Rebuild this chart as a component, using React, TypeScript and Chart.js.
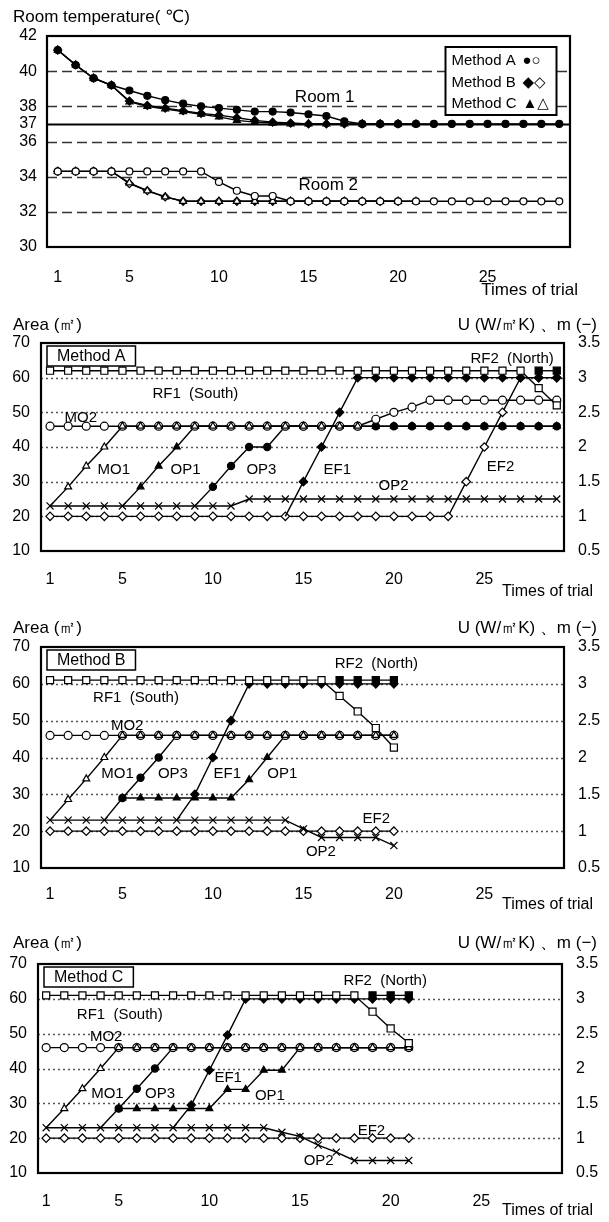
import React, { useEffect, useRef } from "react";
import { Chart, registerables } from "chart.js";

Chart.register(...registerables);

const FONT = '"Liberation Sans", Arial, "DejaVu Sans", sans-serif';

// ---------------- shared axis data ----------------
const TRIALS = [1, 2, 3, 4, 5, 6, 7, 8, 9, 10, 11, 12, 13, 14, 15, 16, 17, 18, 19, 20, 21, 22, 23, 24, 25, 26, 27, 28, 29];
const TRIAL_TICKS = [1, 5, 10, 15, 20, 25];
const TEMP_TICKS = [30, 32, 34, 36, 37, 38, 40, 42];
const TEMP_GRID = [32, 34, 36, 38, 40];
const TEMP_REF = [37];
const AREA_TICKS = [10, 20, 30, 40, 50, 60, 70];
const AREA_GRID = [20, 30, 40, 50, 60];
const U_TICKS = [0.5, 1, 1.5, 2, 2.5, 3, 3.5];

// ---------------- panel 1 : room temperature ----------------
const ROOM1_A = [41.2, 40.35, 39.6, 39.2, 38.9, 38.6, 38.35, 38.15, 38.0, 37.9, 37.8, 37.7, 37.7, 37.65, 37.55, 37.45, 37.15, 37.0, 37.0, 37.0, 37.0, 37.0, 37.0, 37.0, 37.0, 37.0, 37.0, 37.0, 37.0];
const ROOM1_B = [41.2, 40.35, 39.6, 39.2, 38.3, 38.05, 37.9, 37.75, 37.6, 37.5, 37.35, 37.2, 37.1, 37.05, 37.0, 37.0, 37.0, 37.0, 37.0, 37.0];
const ROOM1_C = [41.2, 40.35, 39.6, 39.2, 38.25, 38.0, 37.85, 37.7, 37.55, 37.4, 37.2, 37.1, 37.05, 37.0, 37.0, 37.0, 37.0, 37.0, 37.0, 37.0, 37.0];
const ROOM2_A = [34.3, 34.3, 34.3, 34.3, 34.3, 34.3, 34.3, 34.3, 34.3, 33.7, 33.2, 32.9, 32.9, 32.6, 32.6, 32.6, 32.6, 32.6, 32.6, 32.6, 32.6, 32.6, 32.6, 32.6, 32.6, 32.6, 32.6, 32.6, 32.6];
const ROOM2_B = [34.3, 34.3, 34.3, 34.3, 33.6, 33.2, 32.85, 32.6, 32.6, 32.6, 32.6, 32.6, 32.6, 32.6, 32.6, 32.6, 32.6, 32.6, 32.6, 32.6];
const ROOM2_C = [34.3, 34.3, 34.3, 34.3, 33.65, 33.2, 32.85, 32.6, 32.6, 32.6, 32.6, 32.6, 32.6, 32.6, 32.6, 32.6, 32.6, 32.6, 32.6, 32.6, 32.6];
const LEGEND_ROWS = ["Method A", "Method B", "Method C"];
const LEGEND_GLYPHS = ["●○", "◆◇", "▲△"];
const ROOM_LABELS = [
  { text: "Room 1", x: 15.9, y: 38.54 },
  { text: "Room 2", x: 16.1, y: 33.5 },
];

// ---------------- panel 2 : Method A ----------------
const A_RF1 = [62, 62, 62, 62, 62, 62, 62, 62, 62, 62, 62, 62, 62, 62, 62, 62, 62, 62, 62, 62, 62, 62, 62, 62, 62, 62, 62, 57, 52];
const A_RF2 = [null, null, null, null, null, null, null, null, null, null, null, null, null, null, null, null, null, null, null, null, null, null, null, null, null, null, null, 62, 62];
const A_EF1 = [null, null, null, null, null, null, null, null, null, null, null, null, null, 20, 30, 40, 50, 60, 60, 60, 60, 60, 60, 60, 60, 60, 60, 60, 60];
const A_EF2 = [20, 20, 20, 20, 20, 20, 20, 20, 20, 20, 20, 20, 20, 20, 20, 20, 20, 20, 20, 20, 20, 20, 20, 30, 40, 50, 60, 60, 60];
const A_MO2 = [46, 46, 46, 46, 46, 46, 46, 46, 46, 46, 46, 46, 46, 46, 46, 46, 46, 46, 48, 50, 51.5, 53.5, 53.5, 53.5, 53.5, 53.5, 53.5, 53.5, 53.5];
const A_MO1 = [23, 28.5, 34.5, 40, 46, 46, 46, 46, 46, 46, 46, 46, 46, 46, 46, 46, 46, 46];
const A_OP1 = [null, null, null, null, 23, 28.5, 34.5, 40, 46, 46, 46, 46, 46, 46, 46, 46, 46, 46, 46, 46, 46, 46, 46, 46, 46, 46, 46, 46, 46];
const A_OP3 = [null, null, null, null, null, null, null, null, 23, 28.5, 34.5, 40, 40, 46, 46, 46, 46, 46, 46, 46, 46, 46, 46, 46, 46, 46, 46, 46, 46];
const A_OP2 = [23, 23, 23, 23, 23, 23, 23, 23, 23, 23, 23, 25, 25, 25, 25, 25, 25, 25, 25, 25, 25, 25, 25, 25, 25, 25, 25, 25, 25];
const A_LABELS = [
  { text: "MO2", x: 2.7, y: 48.5 },
  { text: "RF1  (South)", x: 9.03, y: 55.4 },
  { text: "RF2  (North)", x: 26.53, y: 65.5 },
  { text: "MO1", x: 4.52, y: 33.3 },
  { text: "OP1", x: 8.49, y: 33.3 },
  { text: "OP3", x: 12.68, y: 33.3 },
  { text: "EF1", x: 16.87, y: 33.3 },
  { text: "OP2", x: 19.98, y: 28.9 },
  { text: "EF2", x: 25.89, y: 34.2 },
];

// ---------------- panel 3 : Method B ----------------
const B_RF1 = [61, 61, 61, 61, 61, 61, 61, 61, 61, 61, 61, 61, 61, 61, 61, 61, 56.7, 52.5, 48, 42.7];
const B_RF2 = [null, null, null, null, null, null, null, null, null, null, null, null, null, null, null, null, 61, 61, 61, 61];
const B_EF1 = [null, null, null, null, null, null, null, 23, 30, 40, 50, 60, 60, 60, 60, 60, 60, 60, 60, 60];
const B_EF2 = [20, 20, 20, 20, 20, 20, 20, 20, 20, 20, 20, 20, 20, 20, 20, 20, 20, 20, 20, 20];
const B_MO2 = [46, 46, 46, 46, 46, 46, 46, 46, 46, 46, 46, 46, 46, 46, 46, 46, 46, 46, 46, 46];
const B_MO1 = [23, 28.6, 34.2, 40, 46, 46, 46, 46, 46, 46, 46, 46, 46, 46, 46, 46, 46, 46, 46, 46];
const B_OP3 = [null, null, null, 23, 29, 34.5, 40, 46, 46, 46, 46, 46, 46, 46, 46, 46, 46, 46, 46, 46];
const B_OP1 = [null, null, null, null, 29, 29, 29, 29, 29, 29, 29, 34, 40, 46, 46, 46, 46, 46, 46, 46];
const B_OP2 = [23, 23, 23, 23, 23, 23, 23, 23, 23, 23, 23, 23, 23, 23, 20.6, 18.3, 18.3, 18.3, 18.3, 16.1];
const B_LABELS = [
  { text: "RF2  (North)", x: 19.03, y: 65.3 },
  { text: "RF1  (South)", x: 5.75, y: 56.1 },
  { text: "MO2", x: 5.26, y: 48.6 },
  { text: "MO1", x: 4.73, y: 35.5 },
  { text: "OP3", x: 7.79, y: 35.5 },
  { text: "EF1", x: 10.79, y: 35.5 },
  { text: "OP1", x: 13.83, y: 35.5 },
  { text: "EF2", x: 19.03, y: 23.3 },
  { text: "OP2", x: 15.97, y: 14.3 },
];

// ---------------- panel 4 : Method C ----------------
const C_RF1 = [61, 61, 61, 61, 61, 61, 61, 61, 61, 61, 61, 61, 61, 61, 61, 61, 61, 61, 56.3, 51.5, 47.3];
const C_RF2 = [null, null, null, null, null, null, null, null, null, null, null, null, null, null, null, null, null, null, 61, 61, 61];
const C_EF1 = [null, null, null, null, null, null, null, 23, 29.5, 39.5, 49.6, 60, 60, 60, 60, 60, 60, 60, 60, 60, 60];
const C_EF2 = [20, 20, 20, 20, 20, 20, 20, 20, 20, 20, 20, 20, 20, 20, 20, 20, 20, 20, 20, 20, 20];
const C_MO2 = [46, 46, 46, 46, 46, 46, 46, 46, 46, 46, 46, 46, 46, 46, 46, 46, 46, 46, 46, 46, 46];
const C_MO1 = [23, 28.5, 34.2, 40, 46, 46, 46, 46, 46, 46, 46, 46, 46, 46, 46, 46, 46, 46, 46, 46, 46];
const C_OP3 = [null, null, null, 23, 28.5, 34.2, 40, 46, 46, 46, 46, 46, 46, 46, 46, 46, 46, 46, 46, 46, 46];
const C_OP1 = [null, null, null, null, 28.5, 28.5, 28.5, 28.5, 28.5, 28.5, 34, 34, 39.5, 39.5, 46, 46, 46, 46, 46, 46, 46];
const C_OP2 = [23, 23, 23, 23, 23, 23, 23, 23, 23, 23, 23, 23, 23, 21.7, 20.5, 18, 16, 13.6, 13.6, 13.6, 13.6];
const C_LABELS = [
  { text: "RF2  (North)", x: 19.7, y: 65.3 },
  { text: "RF1  (South)", x: 5.06, y: 55.3 },
  { text: "MO2", x: 4.31, y: 49.1 },
  { text: "MO1", x: 4.38, y: 32.6 },
  { text: "OP3", x: 7.28, y: 32.6 },
  { text: "EF1", x: 11.04, y: 37.3 },
  { text: "OP1", x: 13.34, y: 32.1 },
  { text: "EF2", x: 18.94, y: 22.1 },
  { text: "OP2", x: 16.03, y: 13.6 },
];

// ---------------- marker styles ----------------
type Mark = { style: string; fill: boolean; r: number };
const MARKS: Record<string, Mark> = {
  RF1: { style: "rect", fill: false, r: 5 },
  RF2: { style: "rect", fill: true, r: 5 },
  EF1: { style: "rectRot", fill: true, r: 4.2 },
  EF2: { style: "rectRot", fill: false, r: 4.2 },
  MO1: { style: "triangle", fill: false, r: 4 },
  MO2: { style: "circle", fill: false, r: 4 },
  OP1: { style: "triangle", fill: true, r: 4 },
  OP2: { style: "crossRot", fill: false, r: 5 },
  OP3: { style: "circle", fill: true, r: 3.6 },
  A1: { style: "circle", fill: true, r: 3.5 },
  A2: { style: "circle", fill: false, r: 3.5 },
  B1: { style: "rectRot", fill: true, r: 4 },
  B2: { style: "rectRot", fill: false, r: 4 },
  C1: { style: "triangle", fill: true, r: 4 },
  C2: { style: "triangle", fill: false, r: 4 },
};

type Series = { data: (number | null)[]; mark: string; hideFirst?: boolean };
type Label = { text: string; x: number; y: number };

type PanelCfg = {
  top: number;
  height: number;
  padTop: number;
  padRight: number;
  yWidth: number;
  y2Width: number;
  xHeight: number;
  xMin: number;
  xMax: number;
  xPad: number;
  yMin: number;
  yMax: number;
  yTicks: number[];
  series: Series[];
  labels: Label[];
  labelSize: number;
  kind: "temp" | "area";
  method?: string;
  titleDy: number;
  trialDx: number;
  trialDy: number;
  trialSize: number;
};

function makeDataset(s: Series) {
  const mark = MARKS[s.mark];
  const first = s.data.findIndex((v) => v !== null);
  return {
    data: s.data.map((v, i) => ({ x: TRIALS[i], y: v })),
    borderColor: "#000",
    borderWidth: 1.4,
    fill: false,
    tension: 0,
    pointStyle: mark.style,
    pointRadius: s.data.map((_, i) => (s.hideFirst && i === first ? 0 : mark.r)),
    pointHoverRadius: 0,
    pointBackgroundColor: mark.fill ? "#000" : "#fff",
    pointBorderColor: "#000",
    pointBorderWidth: 1.2,
    yAxisID: "y",
  };
}

function txt(ctx: CanvasRenderingContext2D, s: string, x: number, y: number, size: number, align: CanvasTextAlign) {
  ctx.save();
  ctx.font = `${size}px ${FONT}`;
  ctx.fillStyle = "#000";
  ctx.textAlign = align;
  ctx.textBaseline = "middle";
  ctx.fillText(s, x, y);
  ctx.restore();
}

function hLines(chart: any, values: number[], dash: number[], color: string, width: number) {
  const { ctx, chartArea: a } = chart;
  const ys = chart.scales.y;
  ctx.save();
  ctx.setLineDash(dash);
  ctx.strokeStyle = color;
  ctx.lineWidth = width;
  values.forEach((v) => {
    const py = Math.round(ys.getPixelForValue(v)) + 0.5;
    ctx.beginPath();
    ctx.moveTo(a.left, py);
    ctx.lineTo(a.right, py);
    ctx.stroke();
  });
  ctx.restore();
}

function makePlugin(cfg: PanelCfg) {
  return {
    id: "decor",
    beforeDatasetsDraw(chart: any) {
      if (cfg.kind === "temp") {
        hLines(chart, TEMP_GRID, [10, 5], "#333", 1.5);
        hLines(chart, TEMP_REF, [], "#000", 2);
      } else {
        hLines(chart, AREA_GRID, [2, 3], "#555", 1.5);
      }
    },
    afterDatasetsDraw(chart: any) {
      const { ctx, chartArea: a, scales } = chart;
      const w = chart.width;
      ctx.save();
      ctx.strokeStyle = "#000";
      ctx.lineWidth = 2.2;
      ctx.strokeRect(a.left, a.top, a.right - a.left, a.bottom - a.top);
      ctx.restore();
      cfg.labels.forEach((l) => {
        txt(ctx, l.text, scales.x.getPixelForValue(l.x), scales.y.getPixelForValue(l.y), cfg.labelSize, "center");
      });
      if (cfg.kind === "temp") {
        txt(ctx, "Room temperature( ℃)", 13, a.top + cfg.titleDy, 17, "left");
        const bx = a.right - 124.5;
        const by = a.top + 11;
        ctx.save();
        ctx.fillStyle = "#fff";
        ctx.fillRect(bx, by, 111, 68);
        ctx.strokeStyle = "#000";
        ctx.lineWidth = 2;
        ctx.strokeRect(bx, by, 111, 68);
        ctx.restore();
        LEGEND_ROWS.forEach((r, i) => {
          const ry = by + 14 + i * 21.5;
          txt(ctx, r, bx + 6, ry, 15, "left");
          txt(ctx, LEGEND_GLYPHS[i], bx + 77, ry, 15, "left");
        });
      } else {
        txt(ctx, "Area (㎡)", 13, a.top + cfg.titleDy, 17, "left");
        txt(ctx, "U (W/㎡K) 、m (−)", w - 12, a.top + cfg.titleDy, 17, "right");
        if (cfg.method) {
          ctx.save();
          ctx.font = `16px ${FONT}`;
          const tw = ctx.measureText(cfg.method).width;
          const bx = a.left + 6;
          const by = a.top + 3;
          ctx.fillStyle = "#fff";
          ctx.fillRect(bx, by, tw + 20, 20);
          ctx.strokeStyle = "#000";
          ctx.lineWidth = 1.5;
          ctx.strokeRect(bx, by, tw + 20, 20);
          ctx.restore();
          txt(ctx, cfg.method, a.left + 16, a.top + 13.5, 16, "left");
        }
      }
      txt(ctx, "Times of trial", a.right + cfg.trialDx, a.bottom + cfg.trialDy, cfg.trialSize, "right");
    },
  };
}

function buildConfig(cfg: PanelCfg): any {
  const tickFont = { family: FONT, size: 16 };
  const scales: any = {
    x: {
      type: "linear",
      min: cfg.xMin,
      max: cfg.xMax,
      afterBuildTicks: (s: any) => {
        s.ticks = TRIAL_TICKS.map((v) => ({ value: v }));
      },
      afterFit: (s: any) => {
        s.height = cfg.xHeight;
      },
      grid: { display: false, drawTicks: false },
      border: { display: false },
      ticks: { padding: cfg.xPad, color: "#000", font: tickFont, autoSkip: false, maxRotation: 0, callback: (v: any) => String(v) },
    },
    y: {
      type: "linear",
      position: "left",
      min: cfg.yMin,
      max: cfg.yMax,
      afterBuildTicks: (s: any) => {
        s.ticks = cfg.yTicks.map((v) => ({ value: v }));
      },
      afterFit: (s: any) => {
        s.width = cfg.yWidth;
      },
      grid: { display: false, drawTicks: false },
      border: { display: false },
      ticks: { padding: cfg.kind === "temp" ? 10 : 11, color: "#000", font: tickFont, autoSkip: false, callback: (v: any) => String(v) },
    },
  };
  if (cfg.kind === "area") {
    scales.y2 = {
      type: "linear",
      position: "right",
      min: 0.5,
      max: 3.5,
      afterBuildTicks: (s: any) => {
        s.ticks = U_TICKS.map((v) => ({ value: v }));
      },
      afterFit: (s: any) => {
        s.width = cfg.y2Width;
      },
      grid: { display: false, drawTicks: false },
      border: { display: false },
      ticks: { padding: 14, color: "#000", font: tickFont, autoSkip: false, callback: (v: any) => String(v) },
    };
  }
  return {
    type: "line",
    data: { datasets: cfg.series.map(makeDataset) },
    options: {
      responsive: false,
      animation: false,
      devicePixelRatio: 1,
      events: [],
      layout: { padding: { top: cfg.padTop, right: cfg.padRight, left: 0, bottom: 0 } },
      plugins: { legend: { display: false }, tooltip: { enabled: false }, title: { display: false } },
      scales,
    },
    plugins: [makePlugin(cfg)],
  };
}

// dataset order: first entries are drawn on top
const PANELS: PanelCfg[] = [
  {
    top: 0, height: 305, padTop: 36, padRight: 39, yWidth: 47, y2Width: 0, xHeight: 58,
    xMin: 0.4, xMax: 29.6, xPad: 21, yMin: 30, yMax: 42, yTicks: TEMP_TICKS,
    series: [
      { data: ROOM1_A, mark: "A1" },
      { data: ROOM1_C, mark: "C1" },
      { data: ROOM1_B, mark: "B1" },
      { data: ROOM2_A, mark: "A2" },
      { data: ROOM2_C, mark: "C2" },
      { data: ROOM2_B, mark: "B2" },
    ],
    labels: ROOM_LABELS, labelSize: 17, kind: "temp", titleDy: -19, trialDx: 8, trialDy: 43, trialSize: 17,
  },
  {
    top: 305, height: 305, padTop: 38, padRight: 0, yWidth: 41, y2Width: 45, xHeight: 59,
    xMin: 0.5, xMax: 29.4, xPad: 19, yMin: 10, yMax: 70, yTicks: AREA_TICKS,
    series: [
      { data: A_OP2, mark: "OP2" },
      { data: A_RF2, mark: "RF2" },
      { data: A_RF1, mark: "RF1" },
      { data: A_EF1, mark: "EF1", hideFirst: true },
      { data: A_MO1, mark: "MO1", hideFirst: true },
      { data: A_MO2, mark: "MO2" },
      { data: A_OP1, mark: "OP1", hideFirst: true },
      { data: A_OP3, mark: "OP3", hideFirst: true },
      { data: A_EF2, mark: "EF2" },
    ],
    labels: A_LABELS, labelSize: 15, kind: "area", method: "Method A", titleDy: -18, trialDx: 29, trialDy: 41, trialSize: 16,
  },
  {
    top: 610, height: 305, padTop: 37, padRight: 0, yWidth: 41, y2Width: 45, xHeight: 47,
    xMin: 0.5, xMax: 29.4, xPad: 17, yMin: 10, yMax: 70, yTicks: AREA_TICKS,
    series: [
      { data: B_OP2, mark: "OP2" },
      { data: B_RF2, mark: "RF2" },
      { data: B_RF1, mark: "RF1" },
      { data: B_EF1, mark: "EF1", hideFirst: true },
      { data: B_MO1, mark: "MO1", hideFirst: true },
      { data: B_MO2, mark: "MO2" },
      { data: B_OP1, mark: "OP1" },
      { data: B_OP3, mark: "OP3", hideFirst: true },
      { data: B_EF2, mark: "EF2" },
    ],
    labels: B_LABELS, labelSize: 15, kind: "area", method: "Method B", titleDy: -19, trialDx: 29, trialDy: 37, trialSize: 16,
  },
  {
    top: 915, height: 307, padTop: 49, padRight: 0, yWidth: 38, y2Width: 47, xHeight: 49,
    xMin: 0.55, xMax: 29.45, xPad: 19, yMin: 10, yMax: 70, yTicks: AREA_TICKS,
    series: [
      { data: C_OP2, mark: "OP2" },
      { data: C_RF2, mark: "RF2" },
      { data: C_RF1, mark: "RF1" },
      { data: C_EF1, mark: "EF1", hideFirst: true },
      { data: C_MO1, mark: "MO1", hideFirst: true },
      { data: C_MO2, mark: "MO2" },
      { data: C_OP1, mark: "OP1" },
      { data: C_OP3, mark: "OP3", hideFirst: true },
      { data: C_EF2, mark: "EF2" },
    ],
    labels: C_LABELS, labelSize: 15, kind: "area", method: "Method C", titleDy: -21, trialDx: 31, trialDy: 38, trialSize: 16,
  },
];

function Panel({ cfg }: { cfg: PanelCfg }) {
  const ref = useRef<HTMLCanvasElement>(null);
  useEffect(() => {
    if (!ref.current) return;
    const chart = new Chart(ref.current, buildConfig(cfg));
    return () => chart.destroy();
  }, [cfg]);
  return (
    <canvas
      ref={ref}
      width={609}
      height={cfg.height}
      style={{ position: "absolute", left: 0, top: cfg.top, width: 609, height: cfg.height, display: "block" }}
    />
  );
}

export default function App() {
  return (
    <div style={{ position: "absolute", left: 0, top: 0, width: 609, height: 1222, background: "#fff", overflow: "hidden" }}>
      {PANELS.map((p, i) => (
        <Panel key={i} cfg={p} />
      ))}
    </div>
  );
}
